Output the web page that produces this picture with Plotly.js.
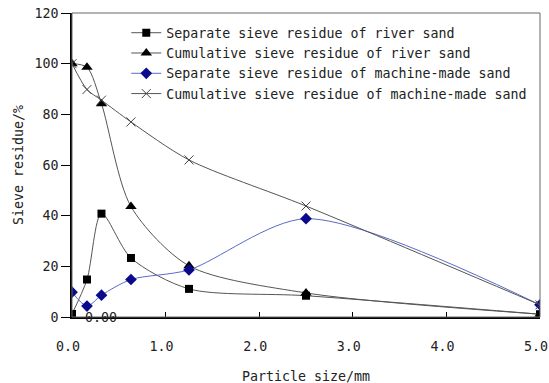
<!DOCTYPE html>
<html><head><meta charset="utf-8">
<script src="https://cdn.plot.ly/plotly-3.0.1.min.js"></script>
<style>body{margin:0;background:#fff}#c{width:549px;height:383px}</style>
</head><body><div id="c"></div>
<script>
var particleSize = [0, 0.16, 0.315, 0.63, 1.25, 2.5, 5.0];
var riverSeparate = [1.2, 14.8, 40.8, 23.3, 11.1, 8.4, 1.1];
var riverCumulative = [100, 98.6, 84.2, 43.6, 20.2, 9.5, 1.1];
var machineSeparate = [9.8, 4.3, 8.6, 14.8, 18.6, 38.8, 4.8];
var machineCumulative = [100, 89.8, 85.6, 77.0, 62.0, 43.8, 4.8];
var xTicks = [0, 1, 2, 3, 4, 5];
var xTickText = ["0.0", "1.0", "2.0", "3.0", "4.0", "5.0"];
var names = ["Separate sieve residue of river sand","Cumulative sieve residue of river sand","Separate sieve residue of machine-made sand","Cumulative sieve residue of machine-made sand"];
var xTitle = "Particle size/mm";
var yTitle = "Sieve residue/%";
var FONT = "'DejaVu Sans Mono', monospace";
var FS = 13.3;
var traces = [
 {x: particleSize, y: riverSeparate, name: names[0], mode: "lines+markers",
  line: {color: "#555", width: 1, shape: "spline", smoothing: 0.8},
  marker: {symbol: "square", size: 8, color: "#000"}},
 {x: particleSize, y: riverCumulative, name: names[1], mode: "lines+markers",
  line: {color: "#555", width: 1, shape: "spline", smoothing: 0.8},
  marker: {symbol: "triangle-up", size: 10, color: "#000"}},
 {x: particleSize, y: machineSeparate, name: names[2], mode: "lines+markers",
  line: {color: "#5a6bc8", width: 1, shape: "spline", smoothing: 0.8},
  marker: {symbol: "diamond", size: 9, color: "#0a0a8c"}},
 {x: particleSize, y: machineCumulative, name: names[3], mode: "lines+markers",
  line: {color: "#555", width: 1, shape: "spline", smoothing: 0.8},
  marker: {symbol: "x-thin-open", size: 9, color: "#444", line: {width: 1, color: "#444"}}}
];
var layout = {
  width: 549, height: 383,
  margin: {l: 72, r: 9, t: 13, b: 66},
  paper_bgcolor: "#fff", plot_bgcolor: "#fff",
  font: {family: FONT, size: FS, color: "#222"},
  showlegend: true,
  legend: {x: 0.116, y: 0.985, xanchor: "left", yanchor: "top", bgcolor: "rgba(0,0,0,0)",
    font: {family: FONT, size: FS, color: "#222"}, tracegroupgap: 0, itemwidth: 30},
  xaxis: {range: [0, 5], tickmode: "array", tickvals: xTicks, ticktext: xTickText, ticks: "inside", ticklen: 5,
    tickcolor: "#000", showgrid: false, zeroline: false, showline: true, linecolor: "#000", linewidth: 1.5,
    ticklabelstandoff: 16, ticklabelshift: -4, ticklabeloverflow: "allow", automargin: false},
  yaxis: {range: [0, 120], dtick: 20, tick0: 0, ticks: "outside", ticklen: 9, tickcolor: "#000",
    showgrid: false, zeroline: false, showline: true, linecolor: "#000", linewidth: 1.5, automargin: false},
  shapes: [{type: "rect", xref: "paper", yref: "paper", x0: 0, x1: 1, y0: 0, y1: 1,
    line: {color: "#666", width: 1}}],
  annotations: [
   {x: 0.31, y: 0, xref: "x", yref: "y", text: "0.00", showarrow: false,
    font: {family: FONT, size: FS, color: "#222"}, yanchor: "middle"},
   {x: 0.5, y: 0, xref: "paper", yref: "paper", yshift: -59, text: xTitle, showarrow: false,
    font: {family: FONT, size: FS, color: "#222"}, yanchor: "middle"},
   {x: 0, y: 0.5, xref: "paper", yref: "paper", xshift: -54, text: yTitle, showarrow: false, textangle: -90,
    font: {family: FONT, size: FS, color: "#222"}, xanchor: "center"}
  ]
};
Plotly.newPlot("c", traces, layout, {displayModeBar: false});
</script></body></html>
